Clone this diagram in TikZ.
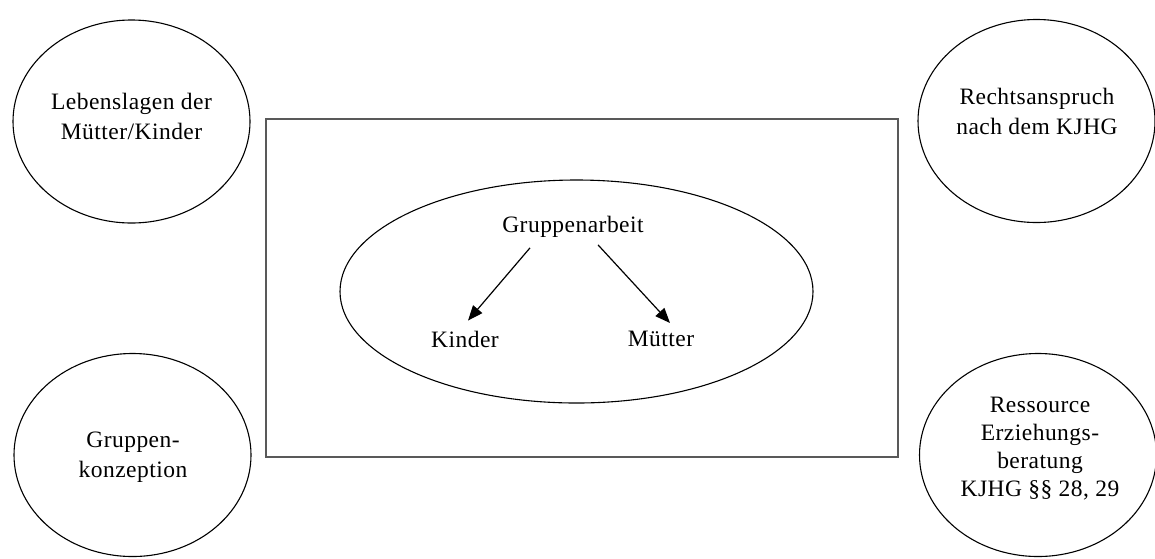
\documentclass[tikz,border=0pt]{standalone}
\usepackage{fontspec}
\setmainfont{Liberation Serif}[LetterSpace=2]
\usetikzlibrary{shapes.geometric,arrows.meta}
\tikzset{
  outer/.style={draw=black, line width=1.1pt, ellipse, minimum width=237pt, minimum height=203pt, inner sep=0pt},
  lbl/.style={align=center, inner sep=0pt, font=\fontsize{23.5pt}{30pt}\selectfont},
  txt/.style={inner sep=0pt, font=\fontsize{23.5pt}{30pt}\selectfont},
  frame/.style={draw=black!65, line width=1.8pt},
  inner/.style={draw=black, line width=1.1pt, ellipse, minimum width=473pt, minimum height=223pt, inner sep=0pt},
  arr/.style={draw=black, line width=1.2pt, -{Triangle[length=15pt,width=12pt]}}
}
\begin{document}
\begin{tikzpicture}[x=1pt,y=-1pt]
\useasboundingbox (0,0) rectangle (1155,558);
% outer circles
\node[outer] (tl) at (131.5,121.5) {};
\node[outer] (bl) at (132.5,455) {};
\node[outer] (tr) at (1036.5,121) {};
\node[outer] (br) at (1038,455) {};
\node[lbl] (tlt) at (131.5,116) {Lebenslagen der\\Mütter/Kinder};
\node[lbl] (blt) at (133,457) {Gruppen-\\konzeption};
\node[lbl] (trt) at (1037,111.5) {Rechtsanspruch\\nach dem KJHG};
\node[lbl, font=\fontsize{23.5pt}{28pt}\selectfont] (brt) at (1040,448.5) {Ressource\\Erziehungs-\\beratung\\KJHG §§ 28, 29};
% frame
\node[frame, minimum width=632pt, minimum height=338pt, inner sep=0pt] (box) at (582,288) {};
% inner ellipse
\node[inner] (ell) at (576.5,291.5) {};
\node[txt] (g) at (573,227) {Gruppenarbeit};
\node[txt] (k) at (465,339) {Kinder};
\node[txt] (m) at (661,339) {Mütter};
\draw[arr] ([xshift=-43pt,yshift=-10pt]g.south) -- ([xshift=3pt,yshift=10pt]k.north);
\draw[arr] ([xshift=25pt,yshift=-7pt]g.south) -- ([xshift=9pt,yshift=8pt]m.north);
\end{tikzpicture}
\end{document}
